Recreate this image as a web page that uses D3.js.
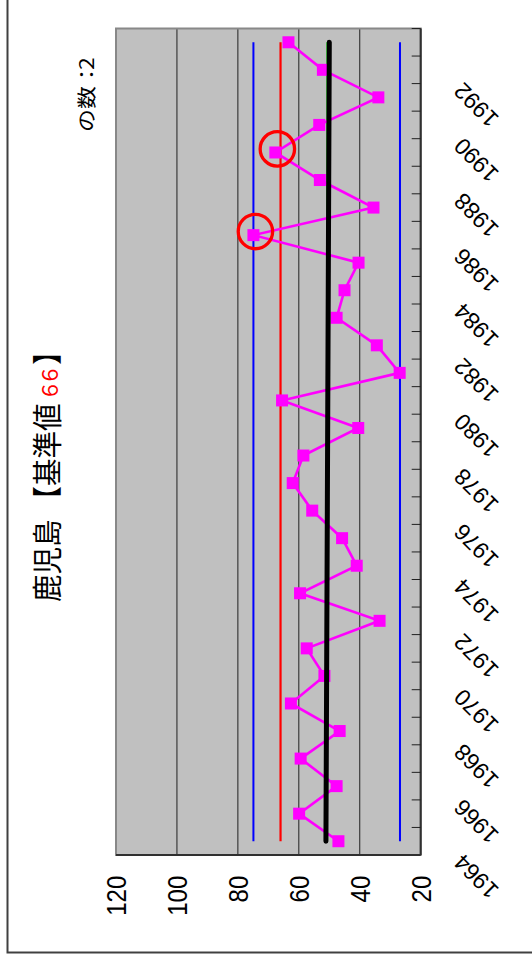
<!DOCTYPE html>
<html><head><meta charset="utf-8">
<script src="https://cdn.jsdelivr.net/npm/d3@7/dist/d3.min.js"></script>
<style>body{margin:0;background:#fff}svg{display:block}</style>
</head><body>
<svg id="chart" width="532" height="955"></svg>
<script>
// ---- data ----
const years = [1964,1965,1966,1967,1968,1969,1970,1971,1972,1973,1974,1975,1976,1977,1978,
               1979,1980,1981,1982,1983,1984,1985,1986,1987,1988,1989,1990,1991,1992,1993];
const values = [47.0,59.9,47.6,59.4,46.6,62.6,51.6,57.4,33.5,59.6,41.0,45.8,55.6,62.0,58.5,
                40.5,65.5,26.9,34.4,47.6,45.0,40.4,74.9,35.5,53.1,67.7,53.3,33.9,52.1,63.4];
const yearLabels = [1964,1966,1968,1970,1972,1974,1976,1978,1980,1982,1984,1986,1988,1990,1992];
const valueTicks = [20,40,60,80,100,120];
const thresholdValue = 66;          // 基準値
const upperLimit = 74.9;            // blue upper
const lowerLimit = 26.8;            // blue lower
const meanValue = 50.7;             // green
const trendValues = [51.1, 50.0];   // black trend line at first / last year
const titleMain = "鹿児島 【基準値";
const titleNum = "６６";
const titleEnd = "】";
const countText = ["の数", "：", "2"];

// ---- layout ----
const svg = d3.select('#chart');
const plot = {left:116, right:420.7, top:28.5, bottom:855};
const x = d3.scaleLinear().domain([20,120]).range([plot.right, plot.left]);
const y = d3.scaleBand().domain(years).range([plot.bottom, plot.top]).padding(0);
const cy = d => y(d) + y.bandwidth()/2;
const firstY = years[0], lastY = years[years.length-1];

// outer frame
svg.append('rect').attr('x',7.5).attr('y',-10).attr('width',620).attr('height',962.5)
  .attr('fill','none').attr('stroke','#404040').attr('stroke-width',2);

// plot background
svg.append('rect').attr('x',plot.left).attr('y',plot.top)
  .attr('width',plot.right-plot.left).attr('height',plot.bottom-plot.top)
  .attr('fill','#c0c0c0');

// gridlines
svg.append('g').selectAll('line').data(valueTicks.filter(v=>v>20&&v<120)).join('line')
  .attr('x1',d=>x(d)).attr('x2',d=>x(d)).attr('y1',plot.top).attr('y2',plot.bottom)
  .attr('stroke','#202020').attr('stroke-width',1);

// reference lines
function hLine(v0, v1, color, w, cap){
  svg.append('line').attr('x1',x(v0)).attr('x2',x(v1))
    .attr('y1',cy(firstY)).attr('y2',cy(lastY))
    .attr('stroke',color).attr('stroke-width',w).attr('stroke-linecap',cap||'butt');
}
hLine(upperLimit, upperLimit, '#0000ff', 2);
hLine(lowerLimit, lowerLimit, '#0000ff', 2);
hLine(thresholdValue, thresholdValue, '#ff0000', 2.2);
hLine(meanValue, meanValue, '#00e000', 1.5);

// data series
const data = years.map((yr,i)=>({year:yr, v:values[i]}));
svg.append('path').datum(data)
  .attr('d', d3.line().x(d=>x(d.v)).y(d=>cy(d.year)))
  .attr('fill','none').attr('stroke','#ff00ff').attr('stroke-width',2.6);
svg.append('g').selectAll('rect').data(data).join('rect')
  .attr('x',d=>x(d.v)-6).attr('y',d=>cy(d.year)-6).attr('width',12).attr('height',12)
  .attr('fill','#ff00ff');

// trend line
hLine(trendValues[0], trendValues[1], '#000000', 5, 'round');

// circles on values above threshold
svg.append('g').selectAll('circle').data(data.filter(d=>d.v>thresholdValue)).join('circle')
  .attr('cx',d=>x(d.v)+2).attr('cy',d=>cy(d.year)-3.6).attr('r',17.2)
  .attr('fill','none').attr('stroke','#ff0000').attr('stroke-width',3.3);

// plot border + axis lines
svg.append('rect').attr('x',plot.left).attr('y',plot.top)
  .attr('width',plot.right-plot.left).attr('height',plot.bottom-plot.top)
  .attr('fill','none').attr('stroke','#888').attr('stroke-width',2);
svg.append('line').attr('x1',plot.right).attr('x2',plot.right).attr('y1',plot.top).attr('y2',plot.bottom)
  .attr('stroke','#303030').attr('stroke-width',2);
svg.append('line').attr('x1',plot.left).attr('x2',plot.right).attr('y1',plot.bottom).attr('y2',plot.bottom)
  .attr('stroke','#303030').attr('stroke-width',2);

// category boundary ticks (inside)
svg.append('g').selectAll('line').data(years).join('line')
  .attr('x1',plot.right-9).attr('x2',plot.right).attr('y1',d=>y(d)).attr('y2',d=>y(d))
  .attr('stroke','#202020').attr('stroke-width',1);

// value axis labels
const vAxis = svg.append('g').attr('transform',`translate(0,${plot.bottom})`)
  .call(d3.axisBottom(x).tickValues(valueTicks).tickSize(0).tickFormat(d3.format('d')));
vAxis.select('.domain').remove();
vAxis.selectAll('text').attr('x',0).attr('y',0).attr('dy',null)
  .attr('text-anchor','end').attr('fill','#000')
  .attr('transform','translate(9.6,20.7) rotate(-90) scale(1,1.12)')
  .style('font-family','"Liberation Sans", Arial, sans-serif').style('font-size','24px');

// category axis labels
const cAxis = svg.append('g').attr('transform',`translate(${plot.right},0)`)
  .call(d3.axisRight(y).tickValues(yearLabels).tickSize(0));
cAxis.select('.domain').remove();
cAxis.selectAll('text').attr('x',0).attr('y',0).attr('dy',null)
  .attr('text-anchor','end').attr('fill','#000')
  .attr('transform','translate(43,11.5) rotate(-135)')
  .style('font-family','"Liberation Sans", Arial, sans-serif').style('font-size','23px');

// title
const title = svg.append('text')
  .attr('transform','translate(58,602) rotate(-90) scale(1,1.08)')
  .style('font-family','"Noto Sans CJK JP", sans-serif').style('font-size','27.5px').attr('fill','#000');
title.append('tspan').text(titleMain);
title.append('tspan').attr('dx',3).attr('fill','#ff0000').style('font-size','20px')
  .style('letter-spacing','-4.5px').text(titleNum);
title.append('tspan').attr('dx',4.5).text(titleEnd);

// count text
const cnt = svg.append('text')
  .attr('transform','translate(93.7,132) rotate(-90) scale(1,0.85)')
  .style('font-family','"Noto Sans CJK JP", sans-serif').style('font-size','23px').attr('fill','#000');
cnt.append('tspan').text(countText[0]);
cnt.append('tspan').style('letter-spacing','-7px').text(countText[1]);
cnt.append('tspan').text(countText[2]);
</script>
</body></html>
